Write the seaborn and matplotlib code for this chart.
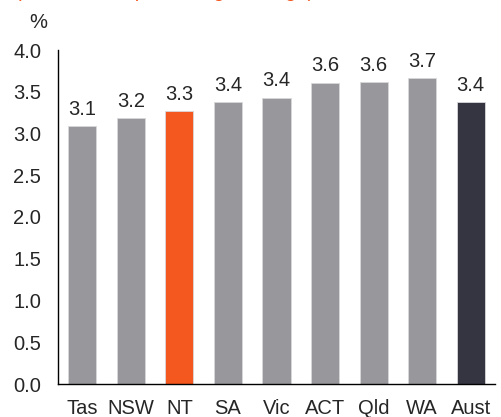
import matplotlib
matplotlib.use('Agg')
import matplotlib.pyplot as plt
import seaborn as sns
import pandas as pd

regions = ['Tas', 'NSW', 'NT', 'SA', 'Vic', 'ACT', 'Qld', 'WA', 'Aust']
values = [3.09, 3.19, 3.27, 3.38, 3.43, 3.61, 3.62, 3.66, 3.38]
bar_colors = ['#98989c', '#98989c', '#f4581f', '#98989c', '#98989c',
              '#98989c', '#98989c', '#98989c', '#343541']
yticks = [0.0, 0.5, 1.0, 1.5, 2.0, 2.5, 3.0, 3.5, 4.0]
subtitle = '(Real annual percentage change)'

sns.set_style('white')
plt.rcParams['font.family'] = ['Liberation Sans', 'DejaVu Sans']
fs = 14.5

df = pd.DataFrame({'region': regions, 'value': values})

fig = plt.figure(figsize=(5.01, 4.17), dpi=100)
ax = fig.add_axes([58 / 501, 33 / 417, 437 / 501, 334 / 417])

sns.barplot(data=df, x='region', y='value', hue='region', palette=bar_colors,
            legend=False, width=0.58, ax=ax, saturation=1, edgecolor='#d8d8da',
            linewidth=0.6)

for i, v in enumerate(values):
    ax.text(i, v + 0.085, f'{v:.1f}', ha='center', va='bottom', fontsize=fs)

ax.set_ylim(0, 4.0)
ax.set_xlim(-0.5, len(regions) - 0.5)
ax.set_yticks(yticks)
ax.set_yticklabels([f'{t:.1f}' for t in yticks])
ax.tick_params(axis='both', length=0, labelsize=fs)
ax.tick_params(axis='y', pad=12)
ax.tick_params(axis='x', pad=11)
ax.set_xlabel('')
ax.set_ylabel('')
for s in ['top', 'right']:
    ax.spines[s].set_visible(False)
for s in ['left', 'bottom']:
    ax.spines[s].set_color('black')
    ax.spines[s].set_linewidth(1.0)

fig.text(38 / 501, 1 - 22 / 417, '%', ha='center', va='center', fontsize=fs)
# subtitle sits mostly above the canvas, only descenders show
fig.text(15 / 501, 1 + 3 / 417, subtitle, ha='left', va='baseline',
         fontsize=fs, color='#f4581f')

fig.savefig('out.png', dpi=100)
